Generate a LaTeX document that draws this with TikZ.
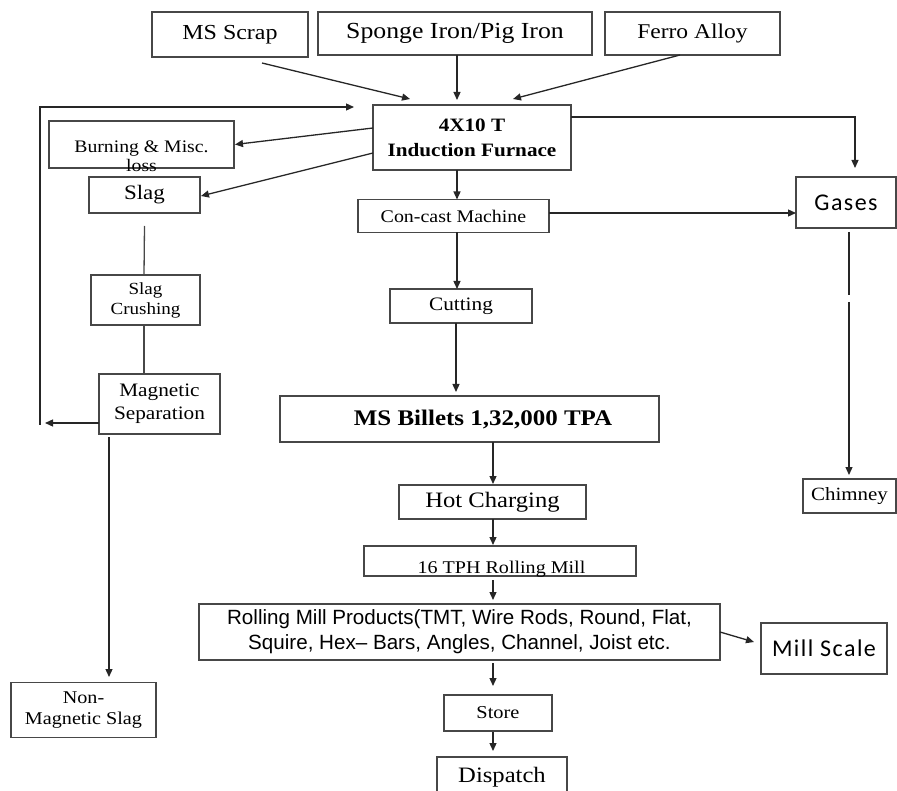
\documentclass[tikz,border=0pt]{standalone}
\usepackage{fontspec}
\setmainfont[FakeStretch=1.12]{Liberation Serif}
\newfontfamily\sansf{Liberation Sans}
\newfontfamily\calib[LetterSpace=6]{Carlito}
\usetikzlibrary{arrows.meta}
\newcommand\fsz[2]{\fontsize{#1}{#2}\selectfont}
\begin{document}
\begin{tikzpicture}[x=1pt,y=-1pt,
  box/.style={draw=black!72,line width=1.3pt,inner sep=0pt,outer sep=0pt,align=center},
  txt/.style={inner sep=0pt,outer sep=0pt,align=center},
  arr/.style={draw=black!85,line width=1.3pt,-{Triangle[length=8pt,width=7pt]}},
  ln/.style={draw=black!72,line width=1.3pt}]
\useasboundingbox (0,0) rectangle (897,791);
% input boxes
\node[box,minimum width=156pt,minimum height=45pt,font=\fsz{21.4}{25}] (scrap) at (230,34.5) {MS Scrap};
\node[box,minimum width=274pt,minimum height=43pt,font=\fsz{23}{27}] (sponge) at (455,33.5) {Sponge Iron/Pig Iron};
\node[box,minimum width=175pt,minimum height=43pt,font=\fsz{21}{25}] (ferro) at (692.5,33.5) {Ferro Alloy};
% furnace
\node[box,minimum width=198pt,minimum height=65pt,font=\fsz{18.9}{25}\bfseries] (furn) at (472,137.5) {4X10 T\\Induction Furnace};
% left side
\node[box,minimum width=185pt,minimum height=47pt] (burn) at (141.5,144.5) {};
\node[txt,anchor=base,font=\fsz{17.6}{15}] (burnt) at (141.5,153) {Burning \& Misc.};
\node[txt,anchor=base,font=\fsz{17.6}{15}] (losst) at (141.5,172) {loss};
\node[box,minimum width=111pt,minimum height=36pt,font=\fsz{20.5}{24}] (slag) at (144.5,195) {Slag};
\node[box,minimum width=109pt,minimum height=50pt,font=\fsz{17}{20}] (crush) at (145.5,300) {Slag\\Crushing};
\node[box,minimum width=121pt,minimum height=60pt,font=\fsz{19}{23}] (mag) at (159.5,404) {Magnetic\\Separation};
\node[box,minimum width=145pt,minimum height=55pt,font=\fsz{18}{21}] (nonmag) at (83.5,710) {Non-\\Magnetic Slag};
% centre column
\node[box,minimum width=191pt,minimum height=33pt,font=\fsz{17.8}{22}] (concast) at (453.5,216) {Con-cast Machine};
\node[box,minimum width=142pt,minimum height=34pt,font=\fsz{19}{22}] (cut) at (461,306) {Cutting};
\node[box,minimum width=379pt,minimum height=46pt,font=\fsz{22.3}{26}\bfseries] (billets) at (469.5,419) {\hspace*{27pt}MS Billets 1,32,000 TPA};
\node[box,minimum width=187pt,minimum height=34pt,font=\fsz{22}{26}] (hot) at (492.5,502) {Hot Charging};
\node[box,minimum width=272pt,minimum height=30pt] (tph) at (500,561) {};
\node[txt,anchor=base,font=\fsz{17.9}{22}] (tpht) at (501.5,573) {16 TPH Rolling Mill};
\node[box,minimum width=521pt,minimum height=56pt,font=\sansf\fsz{20.6}{25}] (prod) at (459.5,632) {Rolling Mill Products(TMT, Wire Rods, Round, Flat,\\Squire, Hex{\textendash} Bars, Angles, Channel, Joist etc.};
\node[box,minimum width=108pt,minimum height=36pt,font=\fsz{18.2}{22}] (store) at (498,713) {Store};
\node[box,minimum width=130pt,minimum height=40pt,font=\fsz{22}{26}] (disp) at (502,777) {Dispatch};
% right side
\node[box,minimum width=100pt,minimum height=51pt,font=\calib\fsz{24}{28}] (gases) at (846,202.5) {Gases};
\node[box,minimum width=93pt,minimum height=34pt,font=\fsz{18.7}{22}] (chim) at (849.5,496) {Chimney};
\node[box,minimum width=126pt,minimum height=51pt,font=\calib\fsz{24}{28}] (mill) at (824,648.5) {Mill Scale};
% feedback loop coordinates
\coordinate (fb0) at (40,425);
\coordinate (fb1) at (40,107);
\coordinate (magout) at (45,423);
% connectors
\draw[arr] ([shift={(32,6)}]scrap.south) -- ([shift={(-62,-6)}]furn.north);
\draw[arr] ([shift={(2,0)}]sponge.south) -- ([shift={(-15,-5)}]furn.north);
\draw[arr] ([shift={(-12.5,0)}]ferro.south) -- ([shift={(41,-6)}]furn.north);
\draw[arr] (fb0) -- (fb1) -- ([shift={(-19,2)}]furn.north west);
\draw[arr] ([shift={(0,-9.5)}]furn.west) -- ([shift={(1,0)}]burn.east);
\draw[arr] ([shift={(0,15.5)}]furn.west) -- ([shift={(1,1)}]slag.east);
\draw[arr] ([shift={(0,-20.5)}]furn.east) -| ([shift={(9,-9)}]gases.north);
\draw[arr] ([shift={(-15,0)}]furn.south) -- ([shift={(3.5,0)}]concast.north);
\draw[arr] ([shift={(0,-3)}]concast.east) -- ([shift={(0,10.5)}]gases.west);
\draw[arr] ([shift={(3.5,0)}]concast.south) -- ([shift={(-4,0)}]cut.north);
\draw[arr] ([shift={(-5,0)}]cut.south) -- ([shift={(-13.5,-4)}]billets.north);
\draw[arr] ([shift={(23.5,0)}]billets.south) -- ([shift={(0.5,-1)}]hot.north);
\draw[arr] ([shift={(0.5,0)}]hot.south) -- ([shift={(-7,-1)}]tph.north);
\draw[arr] ([shift={(-7,4)}]tph.south) -- ([shift={(33.5,-4)}]prod.north);
\draw[arr] ([shift={(33.5,3)}]prod.south) -- ([shift={(-5,-9)}]store.north);
\draw[arr] ([shift={(-5,1)}]store.south) -- ([shift={(-9,-6)}]disp.north);
\draw[arr] (prod.east) -- ([shift={(-7,-6.5)}]mill.west);
\draw[ln] ([shift={(0,13)}]slag.south) -- ([shift={(-1.5,0)}]crush.north);
\draw[ln] ([shift={(-1.5,0)}]crush.south) -- ([shift={(-15.5,0)}]mag.north);
\draw[arr] ([shift={(0,19)}]mag.west) -- (magout);
\draw[arr] ([shift={(-50.5,3)}]mag.south) -- ([shift={(25.5,-5.5)}]nonmag.north);
\draw[arr] ([shift={(3,4)}]gases.south) -- ++(0,63) ++(0,7) -- ([shift={(-0.5,-4)}]chim.north);
\end{tikzpicture}
\end{document}
